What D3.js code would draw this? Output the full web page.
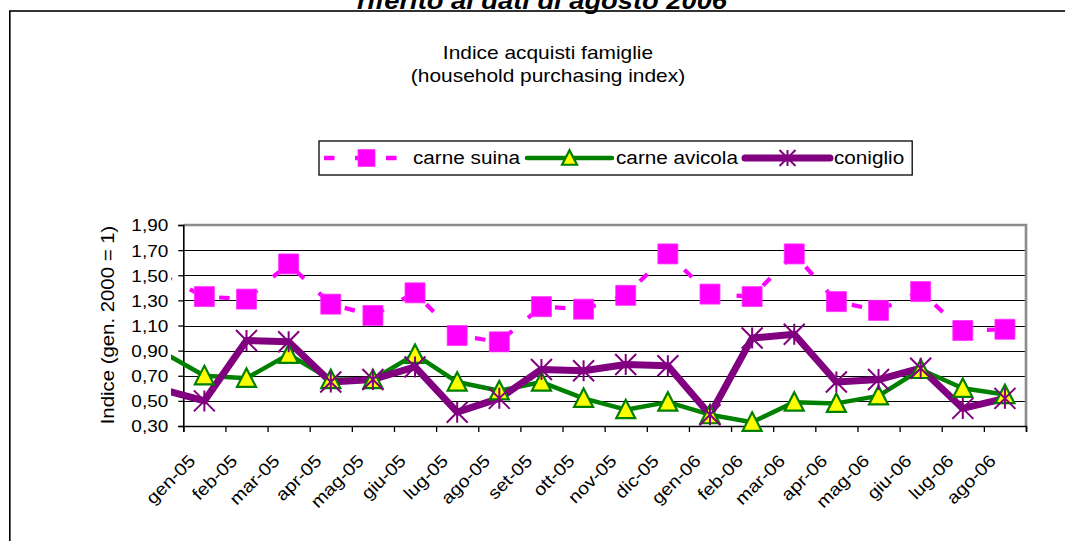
<!DOCTYPE html>
<html><head><meta charset="utf-8">
<script src="https://cdn.jsdelivr.net/npm/d3@7/dist/d3.min.js"></script>
<style>
body{margin:0;background:#fff}
svg{display:block}
text{font-family:"Liberation Sans",Arial,sans-serif;fill:#000}
</style>
</head><body>
<svg id="c" width="1065" height="541"></svg>
<script>
// ---------- DATA ----------
const categories = ["gen-05","feb-05","mar-05","apr-05","mag-05","giu-05","lug-05","ago-05","set-05","ott-05","nov-05","dic-05",
                    "gen-06","feb-06","mar-06","apr-06","mag-06","giu-06","lug-06","ago-06"];
// month preceding the axis (only its line segment enters the plot from the left edge)
const hiddenMonth = "dic-04";
const carneSuina   = [1.50, 1.33,1.31,1.59,1.27,1.18,1.36,1.02,0.97,1.25,1.23,1.34,1.67, 1.35,1.33,1.67,1.29,1.22,1.37,1.06,1.07];
const carneAvicola = [0.89, 0.70,0.68,0.87,0.67,0.67,0.87,0.65,0.58,0.65,0.52,0.43,0.49, 0.39,0.33,0.49,0.48,0.54,0.75,0.60,0.55];
const coniglio     = [0.59, 0.50,0.98,0.97,0.65,0.67,0.77,0.41,0.52,0.75,0.74,0.79,0.78, 0.39,1.00,1.03,0.65,0.67,0.76,0.44,0.52];
const seriesNames  = ["carne suina","carne avicola","coniglio"];
const yTicks = [0.30,0.50,0.70,0.90,1.10,1.30,1.50,1.70,1.90];
const headingText = "riferito ai dati di agosto 2006";
const titleLines = ["Indice acquisti famiglie","(household purchasing index)"];
const yTitle = "Indice (gen. 2000 = 1)";

// ---------- LAYOUT ----------
const svg = d3.select("#c");
const P = {left:183.3, right:1026, top:225, bottom:426};
const step = (P.right - P.left) / categories.length;
const allMonths = [hiddenMonth].concat(categories);
const x = d3.scaleBand().domain(allMonths).range([P.left - step, P.right]).padding(0);
const bw = x.bandwidth();
const xi = d3.scaleLinear().domain([0, categories.length]).range([P.left, P.right]);
const y = d3.scaleLinear().domain([0.30, 1.90]).range([P.bottom, P.top]);
const it = d3.formatLocale({decimal:",",thousands:".",grouping:[3],currency:["€",""]});
const fmt = it.format(".2f");

function stretch(sel, k){
  sel.each(function(){
    const l = this.getComputedTextLength();
    d3.select(this).attr("textLength", l*k).attr("lengthAdjust","spacingAndGlyphs");
  });
  return sel;
}

// heading (cut by the top of the page, as in the original)
svg.append("text").attr("x",542).attr("y",9).attr("text-anchor","middle")
  .style("font-size","24px").style("font-weight","bold").style("font-style","italic")
  .attr("textLength",370).attr("lengthAdjust","spacingAndGlyphs")
  .text(headingText);

// chart frame
svg.append("rect").attr("x",9.8).attr("y",11).attr("width",1200).attr("height",600)
  .attr("fill","none").attr("stroke","#000").attr("stroke-width",1.6);

// title
titleLines.forEach((t,i)=>{
  stretch(svg.append("text").attr("x",548).attr("y",58.5+i*23).attr("text-anchor","middle")
    .style("font-size","18.5px").text(t), 1.13);
});

// gridlines
svg.append("g").selectAll("line").data(yTicks.slice(1,-1)).join("line")
  .attr("x1",P.left).attr("x2",P.right)
  .attr("y1",d=>Math.round(y(d))+0.5).attr("y2",d=>Math.round(y(d))+0.5)
  .attr("stroke","#000").attr("stroke-width",1);

// plot border (top / right gray)
svg.append("path")
  .attr("d",`M${P.left},${P.top} H${P.right} V${P.bottom}`)
  .attr("fill","none").attr("stroke","#8c8c8c").attr("stroke-width",2.6);

// y axis
const yAx = svg.append("g").attr("transform",`translate(${P.left},0)`)
  .call(d3.axisLeft(y).tickValues(yTicks).tickSize(5).tickPadding(10).tickFormat(fmt));
yAx.select(".domain").attr("stroke","#000").attr("stroke-width",1.6);
yAx.selectAll(".tick line").attr("stroke","#000").attr("stroke-width",1.3);
yAx.selectAll("text").style("font-size","16.5px").attr("dy","0.36em").call(stretch,1.15);

// x axis
const xAx = svg.append("g").attr("transform",`translate(0,${P.bottom})`)
  .call(d3.axisBottom(xi).tickValues(d3.range(categories.length+1)).tickSize(6).tickFormat(""));
xAx.select(".domain").attr("stroke","#000").attr("stroke-width",1.6);
xAx.selectAll(".tick line").attr("stroke","#000").attr("stroke-width",1.3);
svg.append("g").selectAll("text").data(categories).join("text")
  .attr("transform",d=>`translate(${x(d)+bw/2-8},462) rotate(-45)`)
  .attr("text-anchor","end").style("font-size","17.5px").text(d=>d)
  .call(stretch,1.12);

// y title
stretch(svg.append("text").attr("transform",`translate(114,325) rotate(-90)`)
  .attr("text-anchor","middle").style("font-size","18.5px").text(yTitle), 1.1);

// ---------- SERIES ----------
svg.append("clipPath").attr("id","clipL").append("rect")
  .attr("x",171).attr("y",0).attr("width",900).attr("height",541);

const px = i => x(allMonths[i]) + bw/2;
const line = d3.line().x((d,i)=>px(i)).y(d=>y(d));

const styles = [
  {data:carneSuina, color:"#ff00ff", width:4.2, dash:"10.5,20.5"},
  {data:carneAvicola, color:"#008000", width:4.5, dash:null},
  {data:coniglio, color:"#800080", width:7, dash:null}
];

const sq = s => `M${-s/2},${-s/2}h${s}v${s}h${-s}Z`;
const tri = s => `M0,${-s*0.52}L${s/2},${s*0.45}L${-s/2},${s*0.45}Z`;
const ast = s => {const r=s/2; return `M0,${-r}V${r}M${-r},${-r}L${r},${r}M${r},${-r}L${-r},${r}`;};

function marker(g, k, s){
  if(k===0) g.append("path").attr("d",sq(s)).attr("fill","#ff00ff").attr("stroke","#ff33ff").attr("stroke-width",0.8);
  if(k===1) g.append("path").attr("d",tri(s)).attr("fill","#ffff00").attr("stroke","#008000").attr("stroke-width",2.2).attr("stroke-linejoin","miter");
  if(k===2) g.append("path").attr("d",ast(s)).attr("fill","none").attr("stroke","#800080").attr("stroke-width",2);
}

styles.forEach((st,k)=>{
  svg.append("path").datum(st.data).attr("d",line).attr("clip-path","url(#clipL)")
    .attr("fill","none").attr("stroke",st.color).attr("stroke-width",st.width)
    .attr("stroke-linejoin","round").attr("stroke-dasharray",st.dash);
});
styles.forEach((st,k)=>{
  st.data.forEach((v,i)=>{
    if(i===0) return;
    const g = svg.append("g").attr("transform",`translate(${px(i)},${y(v)})`);
    marker(g,k,[20,19,21][k]);
  });
});

// ---------- LEGEND ----------
const leg = svg.append("g");
const box = leg.append("rect").attr("y",141).attr("height",34).attr("fill","#fff")
  .attr("stroke","#000").attr("stroke-width",1.3);
let cx = 324; const ly = 158; const sampleLen = 85;
styles.forEach((st,k)=>{
  leg.append("line").attr("x1",cx).attr("x2",cx+sampleLen).attr("y1",ly).attr("y2",ly)
    .attr("stroke",st.color).attr("stroke-width",k===2?7:4.5)
    .attr("stroke-linecap",k===0?"butt":"round").attr("stroke-dasharray",st.dash);
  const g = leg.append("g").attr("transform",`translate(${cx+sampleLen/2},${ly})`);
  marker(g,k,[17,15,16][k]);
  const t = leg.append("text").attr("x",cx+sampleLen+4).attr("y",ly).attr("dy","0.36em")
    .style("font-size","18px").text(seriesNames[k]);
  stretch(t,1.15);
  cx = cx + sampleLen + 4 + (+t.attr("textLength")) + 7;
});
box.attr("x",319).attr("width",cx - 7 + 8 - 319);
</script>
</body></html>
